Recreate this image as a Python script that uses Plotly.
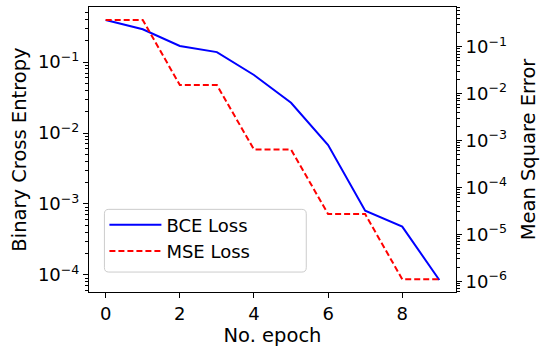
import numpy as np
import plotly.graph_objects as go

# ── Data ──────────────────────────────────────────────────────────────────────
epochs   = [0, 1, 2, 3, 4, 5, 6, 7, 8, 9]
bce_loss = [0.39, 0.289, 0.168, 0.138, 0.0656, 0.0267, 0.00678, 0.000805, 0.00048, 0.000085]
mse_loss = [0.375, 0.375, 0.0153, 0.0153, 6.45e-4, 6.45e-4, 2.7e-5, 2.7e-5, 1.1e-6, 1.1e-6]

x_ticks      = [0, 2, 4, 6, 8]
left_decades = [-4, -3, -2, -1]
right_decades = [-6, -5, -4, -3, -2, -1]

FONT = "DejaVu Sans"


def decade_text(e):
    return f"10<sup>\u2212{abs(e)}</sup>"


def minor_vals(lo, hi):
    vals = []
    for d in range(lo, hi + 1):
        for m in range(2, 10):
            vals.append(m * 10.0 ** d)
    return vals


fig = go.Figure()

fig.add_trace(go.Scatter(
    x=epochs, y=bce_loss, mode="lines", name="BCE Loss",
    line=dict(color="#0000ff", width=2),
    yaxis="y",
))
fig.add_trace(go.Scatter(
    x=epochs, y=mse_loss, mode="lines", name="MSE Loss",
    line=dict(color="#ff0000", width=2, dash="6px,3px"),
    yaxis="y2",
))

axis_common = dict(
    showline=True, linecolor="black", linewidth=1,
    ticks="outside", ticklen=5, tickwidth=1, tickcolor="black",
    showgrid=False, zeroline=False, automargin=False,
    tickfont=dict(family=FONT, size=18, color="black"),
)

# legend frame (matplotlib-style rounded box), in paper coordinates
lx0, lx1, ly0, ly1, r = 0.042, 0.592, 0.07, 0.29, 0.012
ry = r * 367 / 285
legend_box = (
    f"M {lx0 + r},{ly1} L {lx1 - r},{ly1} Q {lx1},{ly1} {lx1},{ly1 - ry} "
    f"L {lx1},{ly0 + ry} Q {lx1},{ly0} {lx1 - r},{ly0} "
    f"L {lx0 + r},{ly0} Q {lx0},{ly0} {lx0},{ly0 + ry} "
    f"L {lx0},{ly1 - ry} Q {lx0},{ly1} {lx0 + r},{ly1} Z"
)

fig.update_layout(
    width=550, height=354,
    paper_bgcolor="white", plot_bgcolor="white",
    font=dict(family=FONT, color="black"),
    margin=dict(l=89, r=94, t=7, b=62),
    showlegend=True,
    xaxis=dict(
        **axis_common,
        range=[-0.45, 9.45],
        tickvals=x_ticks,
        mirror=True,
        title=dict(text="No. epoch", font=dict(family=FONT, size=19.5), standoff=4),
    ),
    yaxis=dict(
        **axis_common,
        type="log",
        range=[-4.24, -0.225],
        tickvals=[10.0 ** e for e in left_decades],
        ticktext=[decade_text(e) for e in left_decades],
        minor=dict(ticks="outside", ticklen=3, tickwidth=1, tickcolor="black",
                   tickvals=minor_vals(-5, -1)),
        title=dict(text="Binary Cross Entropy", font=dict(family=FONT, size=19.5), standoff=6),
    ),
    yaxis2=dict(
        **axis_common,
        type="log",
        overlaying="y",
        side="right",
        range=[-6.23, -0.15],
        tickvals=[10.0 ** e for e in right_decades],
        ticktext=[decade_text(e) for e in right_decades],
        minor=dict(ticks="outside", ticklen=3, tickwidth=1, tickcolor="black",
                   tickvals=minor_vals(-7, -1)),
        title=dict(text="Mean Square Error", font=dict(family=FONT, size=19.5), standoff=15),
    ),
    shapes=[dict(
        type="path", path=legend_box, xref="paper", yref="paper",
        fillcolor="rgba(255,255,255,0.8)", line=dict(color="#cccccc", width=1),
        layer="above",
    )],
    legend=dict(
        x=0.042, y=0.300, xanchor="left", yanchor="top",
        bgcolor="rgba(0,0,0,0)", borderwidth=0,
        font=dict(family=FONT, size=18, color="black"),
        tracegroupgap=0, itemwidth=52,
    ),
)

# browser default body margin would shift the whole figure by 8px
fig.write_html("out.html", post_script="document.body.style.margin='0';",
               config={"displayModeBar": False})
